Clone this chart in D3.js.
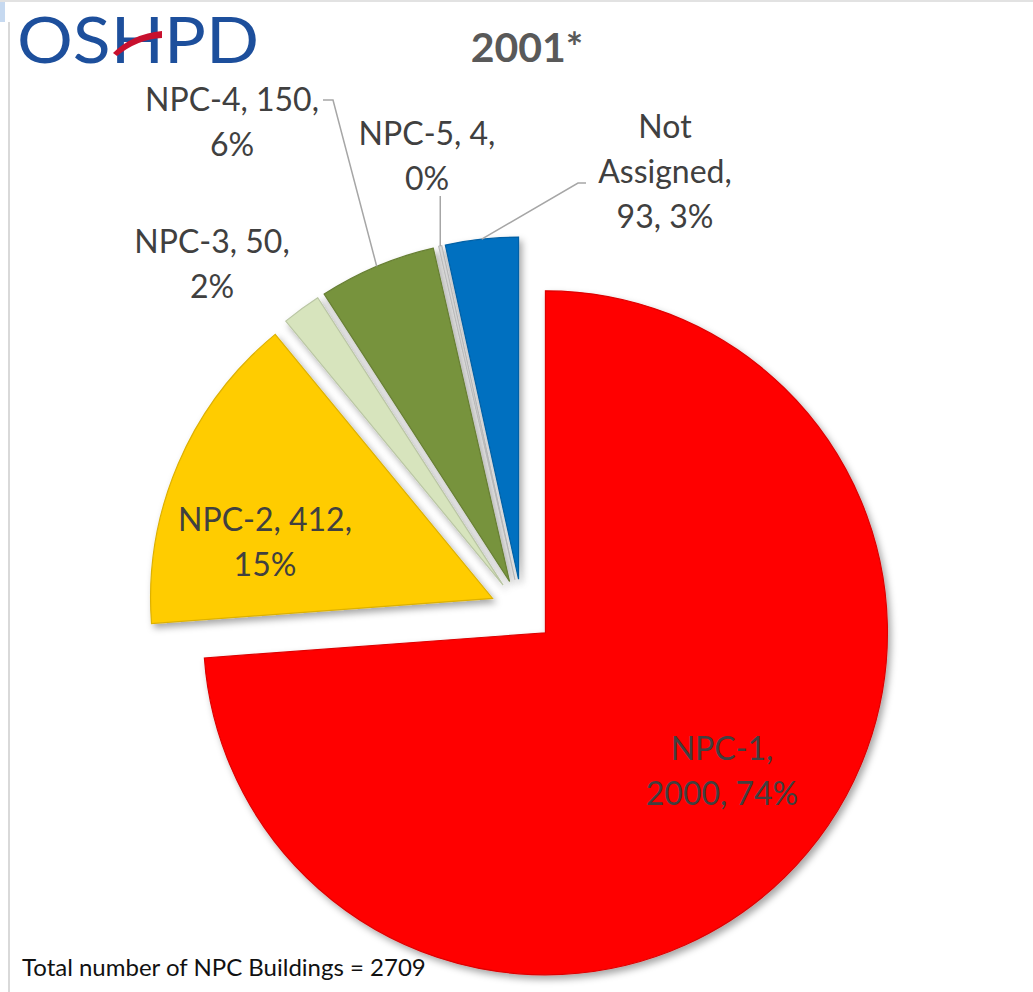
<!DOCTYPE html>
<html><head><meta charset="utf-8">
<script src="https://cdn.jsdelivr.net/npm/d3@7"></script>
<style>html,body{margin:0;padding:0;background:#fff;}svg{display:block;}</style>
</head><body>
<script>
// ---- data ----
const categories = ["NPC-1","NPC-2","NPC-3","NPC-4","NPC-5","Not Assigned"];
const values = [2000, 412, 50, 150, 4, 93];
const colors = ["#ff0000","#ffcc00","#d7e4bd","#77933c","#d9d9d9","#0070c0"];
const lineBreaks = [[1,2],[2,1],[2,1],[2,1],[2,1],[1,1,2]];
const titleText = "2001*";
const footerText = "Total number of NPC Buildings = 2709";

// ---- layout ----
const W = 1033, H = 992;
const cx = 522, cy = 611, R = 342, explode = 32;
const labelPos = [
  {x:722, y:760, leader:false},
  {x:265, y:531, leader:false},
  {x:212, y:253, leader:false},
  {x:232, y:111, leader:true, path:"h"},
  {x:427, y:145, leader:true, path:"v"},
  {x:665, y:138, leader:true, path:"na"}
];
const lineH = 45;
const font = "Lato, 'Open Sans', sans-serif";

const svg = d3.select("body").append("svg").attr("width", W).attr("height", H);
const defs = svg.append("defs");
const f = defs.append("filter").attr("id","sh").attr("x","-20%").attr("y","-20%").attr("width","140%").attr("height","140%");
f.append("feDropShadow").attr("dx",3).attr("dy",4).attr("stdDeviation",3.5).attr("flood-color","#000").attr("flood-opacity",0.35);

// frame bits
svg.append("rect").attr("x",0).attr("y",0).attr("width",5).attr("height",22).attr("fill","#c6d9f0");
svg.append("line").attr("x1",0).attr("x2",W).attr("y1",1).attr("y2",1).attr("stroke","#e2e2e2").attr("stroke-width",2);
svg.append("line").attr("x1",9).attr("x2",9).attr("y1",22).attr("y2",H).attr("stroke","#d9d9d9").attr("stroke-width",2);

// logo
const logo = svg.append("g");
logo.append("text").attr("x",17).attr("y",63).attr("textLength",242).attr("lengthAdjust","spacingAndGlyphs")
  .attr("font-family","Lato, sans-serif").attr("font-weight",400).attr("font-size",64).attr("fill","#1d4f9c").text("OSHPD");
logo.append("path").attr("d","M113,53 Q132,34 162,31 L162,38 Q138,39 117,56 Z").attr("fill","#c8102e");

// title
svg.append("text").attr("x",527).attr("y",62).attr("text-anchor","middle").attr("font-family",font)
  .attr("font-weight",700).attr("font-size",41).attr("fill","#595959").text(titleText);

const total = d3.sum(values);
const pie = d3.pie().sort(null).startAngle(0).endAngle(2*Math.PI);
const arcs = pie(values);
const arc = d3.arc().innerRadius(0).outerRadius(R);
const dir = a => [Math.sin(a), -Math.cos(a)];

const g = svg.append("g").attr("transform",`translate(${cx},${cy})`);
arcs.forEach((d,i)=>{
  const mid = (d.startAngle+d.endAngle)/2;
  const [dx,dy] = dir(mid);
  const c = d3.color(colors[i]);
  g.append("path").attr("d",arc(d))
    .attr("transform",`translate(${dx*explode},${dy*explode})`)
    .attr("fill",colors[i]).attr("stroke",c.darker(0.4)).attr("stroke-width",1.2)
    .attr("filter","url(#sh)");
});

// labels
arcs.forEach((d,i)=>{
  const pct = Math.round(values[i]/total*100);
  const tokens = `${categories[i]}, ${values[i]}, ${pct}%`.split(" ");
  let k=0; const lines=[];
  lineBreaks[i].forEach(n=>{lines.push(tokens.slice(k,k+n).join(" ")); k+=n;});
  const p = labelPos[i];
  const t = svg.append("text").attr("text-anchor","middle").attr("font-family",font)
    .attr("font-size",32).attr("fill","#404040");
  lines.forEach((s,j)=>t.append("tspan").attr("x",p.x).attr("y",p.y+j*lineH).text(s));
  if(p.leader){
    const mid=(d.startAngle+d.endAngle)/2;
    const [dx,dy]=dir(mid);
    const ex = cx + dx*(R+explode), ey = cy + dy*(R+explode);
    let pts;
    if(p.path==="h") pts=[[323,100],[333,100],[ex,ey]];
    else if(p.path==="v") pts=[[ex,196],[ex,ey]];
    else pts=[[586,183],[578,183],[ex,ey]];
    svg.append("path").attr("d",d3.line()(pts)).attr("fill","none").attr("stroke","#a6a6a6").attr("stroke-width",1.5);
  }
});

// footer
svg.append("text").attr("x",22).attr("y",976).attr("font-family",font).attr("font-size",24).attr("fill","#111").text(footerText);
</script>
</body></html>
